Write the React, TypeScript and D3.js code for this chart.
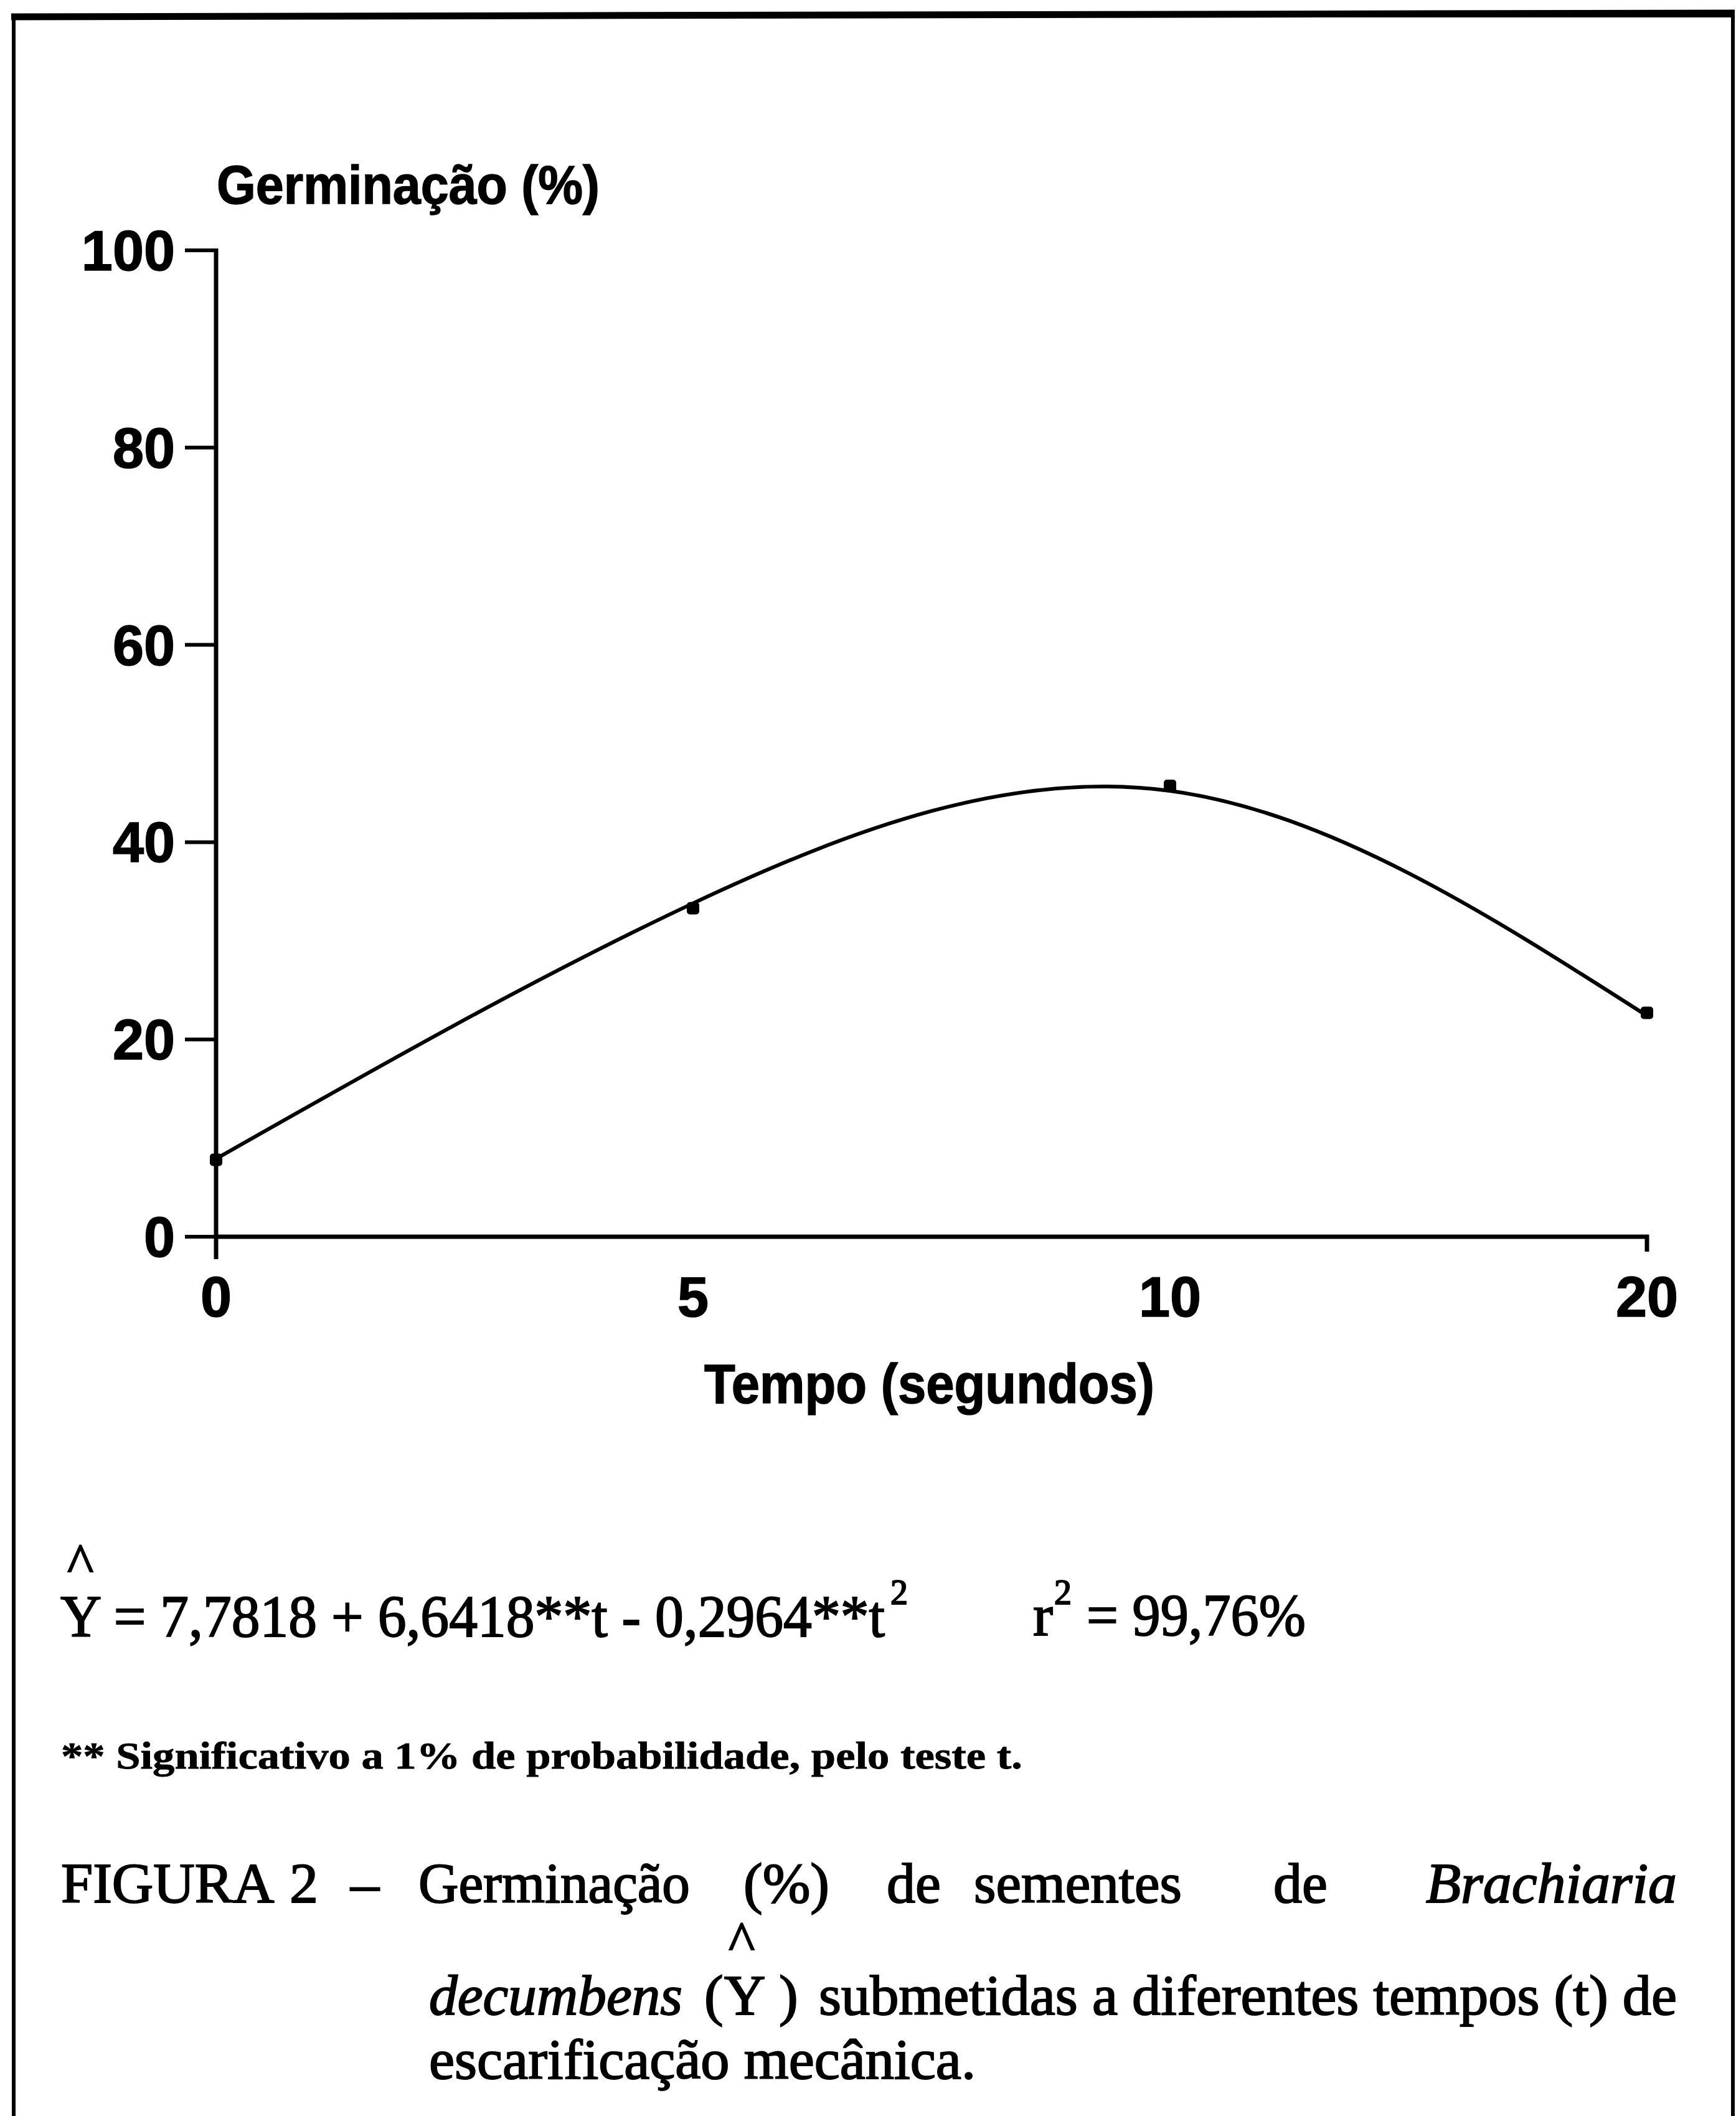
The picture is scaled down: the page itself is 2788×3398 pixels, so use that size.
import React from "react";
import * as d3 from "d3";

const categories = ["0", "5", "10", "20"];
const fittedValues = [7.9, 33.8, 45.2, 22.4];
const observedValues = [7.8, 33.3, 45.7, 22.7];
const yTicks = [0, 20, 40, 60, 80, 100];

const yAxisTitle = "Germinação (%)";
const xAxisTitle = "Tempo (segundos)";
const equationText = "Y = 7,7818 + 6,6418**t - 0,2964**t";
const r2Text = "= 99,76%";
const footnoteText = "** Significativo a 1% de probabilidade, pelo teste t.";

const W = 2788;
const H = 3398;

export default function App() {
  const x = d3.scalePoint<string>().domain(categories).range([347, 2645]);
  const y = d3.scaleLinear().domain([0, 100]).range([1986, 402]);

  const pts = categories.map((c, i) => [x(c) as number, y(fittedValues[i])] as [number, number]);
  const lineGen = d3.line<[number, number]>().x((d) => d[0]).y((d) => d[1]).curve(d3.curveNatural);
  const pathD = lineGen(pts) || "";

  const sans = "'Liberation Sans', Arial, Helvetica, sans-serif";
  const serif = "'Liberation Serif', 'Times New Roman', Times, serif";

  const x0 = x(categories[0]) as number;
  const xN = x(categories[categories.length - 1]) as number;
  const axisW = 7;

  return (
    <svg
      width={W}
      height={H}
      viewBox={`0 0 ${W} ${H}`}
      style={{ position: "absolute", left: 0, top: 0, background: "#fff" }}
    >
      <rect x={0} y={0} width={W} height={H} fill="#fff" />
      {/* frame */}
      <path d={`M22,${H + 10} L22,25 L2783,25 L2783,${H + 10}`} fill="none" stroke="#000" strokeWidth={6} />
      <line x1={18} y1={27} x2={2786} y2={21} stroke="#000" strokeWidth={11} />

      {/* y axis */}
      <line x1={x0} y1={y(100) - 3} x2={x0} y2={2022} stroke="#000" strokeWidth={axisW} />
      {yTicks.map((t) => (
        <g key={`yt${t}`}>
          <line x1={297} y1={y(t)} x2={x0} y2={y(t)} stroke="#000" strokeWidth={axisW - 1} />
          <text
            x={281}
            y={y(t) + 32}
            textAnchor="end"
            fontFamily={sans}
            fontWeight="bold"
            fontSize={90}
            stroke="#000"
            strokeWidth={1.5}
          >
            {t}
          </text>
        </g>
      ))}

      {/* x axis */}
      <line x1={x0} y1={y(0)} x2={xN + 3} y2={y(0)} stroke="#000" strokeWidth={axisW} />
      <line x1={xN} y1={y(0) - 3} x2={xN} y2={2010} stroke="#000" strokeWidth={axisW} />
      {categories.map((c) => (
        <text
          key={`xl${c}`}
          x={x(c) as number}
          y={2114}
          textAnchor="middle"
          fontFamily={sans}
          fontWeight="bold"
          fontSize={90}
          stroke="#000"
          strokeWidth={1.5}
        >
          {c}
        </text>
      ))}

      {/* axis titles */}
      <text x={348} y={327} fontFamily={sans} fontWeight="bold" fontSize={88} textLength={615} lengthAdjust="spacingAndGlyphs" stroke="#000" strokeWidth={1.5}>
        {yAxisTitle}
      </text>
      <text x={1131} y={2253} fontFamily={sans} fontWeight="bold" fontSize={89} textLength={723} lengthAdjust="spacingAndGlyphs" stroke="#000" strokeWidth={1.5}>
        {xAxisTitle}
      </text>

      {/* curve */}
      <path d={pathD} fill="none" stroke="#000" strokeWidth={6} />
      {categories.map((c, i) => (
        <rect
          key={`pt${c}`}
          x={(x(c) as number) - 10}
          y={y(observedValues[i]) - 10}
          width={20}
          height={20}
          rx={5}
          fill="#000"
        />
      ))}

      {/* equation */}
      <g fontFamily={serif} stroke="#000" strokeWidth={2}>
        <text fontSize={96}>
          <tspan x={108} y={2541} fontSize={90}>^</tspan>
          <tspan x={97} y={2628} textLength={1324} lengthAdjust="spacingAndGlyphs">{equationText}</tspan>
          <tspan x={1430} y={2576} fontSize={56}>2</tspan>
        </text>
        <text fontSize={96}>
          <tspan x={1659} y={2626}>r</tspan>
          <tspan x={1693} y={2576} fontSize={56}>2</tspan>
          <tspan x={1745} y={2626} textLength={352} lengthAdjust="spacingAndGlyphs">{r2Text}</tspan>
        </text>
      </g>

      {/* footnote */}
      <text x={98} y={2840} fontFamily={serif} fontWeight="bold" fontSize={62} textLength={1544} lengthAdjust="spacingAndGlyphs" stroke="#000" strokeWidth={0.8}>
        {footnoteText}
      </text>

      {/* caption */}
      <g fontFamily={serif} fontSize={92} stroke="#000" strokeWidth={2}>
        <text x={98} y={3055}>FIGURA</text>
        <text x={465} y={3055}>2</text>
        <text x={563} y={3055}>–</text>
        <text x={672} y={3055} textLength={436} lengthAdjust="spacingAndGlyphs">Germinação</text>
        <text x={1194} y={3055}>(%)</text>
        <text x={1424} y={3055}>de</text>
        <text x={1564} y={3055} textLength={334} lengthAdjust="spacingAndGlyphs">sementes</text>
        <text x={2045} y={3055}>de</text>
        <text x={2290} y={3055} fontStyle="italic" textLength={403} lengthAdjust="spacingAndGlyphs">Brachiaria</text>

        <text x={689} y={3235} fontStyle="italic" textLength={407} lengthAdjust="spacingAndGlyphs">decumbens</text>
        <text>
          <tspan x={1131} y={3235}>(</tspan>
          <tspan x={1170} y={3148} fontSize={90}>^</tspan>
          <tspan x={1163} y={3235}>Y</tspan>
          <tspan x={1251} y={3235}>)</tspan>
        </text>
        <text x={1315} y={3235} textLength={1378} lengthAdjust="spacingAndGlyphs">submetidas a diferentes tempos (t) de</text>

        <text x={689} y={3338} textLength={878} lengthAdjust="spacingAndGlyphs">escarificação mecânica.</text>
      </g>
    </svg>
  );
}
